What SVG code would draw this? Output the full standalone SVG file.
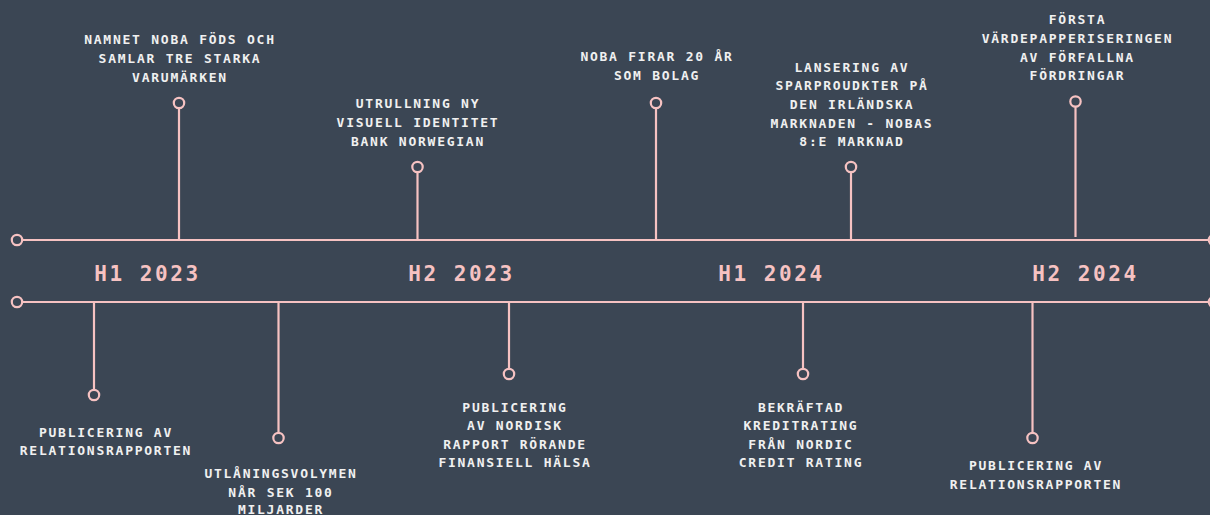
<svg xmlns="http://www.w3.org/2000/svg" width="1210" height="515" viewBox="0 0 1210 515">
<style>
.bg{fill:#3b4654}
.ln{stroke:#f6c2c2;stroke-width:2.2;fill:none}
.dot{stroke:#f6c2c2;stroke-width:2.2;fill:#3b4654}
.t{font-family:"DejaVu Sans Mono","Liberation Mono",monospace;font-weight:bold;font-size:13px;letter-spacing:1.75px;fill:#f0f0f0;text-anchor:middle}
.p{font-family:"DejaVu Sans Mono","Liberation Mono",monospace;font-weight:bold;font-size:21px;letter-spacing:2.6px;fill:#f6c2c2;text-anchor:middle}
</style>
<rect class="bg" x="0" y="0" width="1210" height="515"/>
<g id="connectors">
<line class="ln" x1="17" y1="240" x2="1213" y2="240"/>
<line class="ln" x1="17" y1="302" x2="1213" y2="302"/>
<line class="ln" x1="179" y1="103" x2="179" y2="240"/>
<line class="ln" x1="417.5" y1="167" x2="417.5" y2="240"/>
<line class="ln" x1="656" y1="103" x2="656" y2="240"/>
<line class="ln" x1="851" y1="167" x2="851" y2="240"/>
<line class="ln" x1="1075.5" y1="101.5" x2="1075.5" y2="237"/>
<line class="ln" x1="94" y1="302" x2="94" y2="395"/>
<line class="ln" x1="278.5" y1="302" x2="278.5" y2="438"/>
<line class="ln" x1="509" y1="302" x2="509" y2="374"/>
<line class="ln" x1="803" y1="302" x2="803" y2="374"/>
<line class="ln" x1="1032.5" y1="302" x2="1032.5" y2="438"/>
</g>
<g id="axis-ends">
<circle class="dot" cx="17" cy="240" r="5.2"/>
<circle class="dot" cx="17" cy="302" r="5.2"/>
<circle class="dot" cx="1214" cy="240" r="5.2"/>
<circle class="dot" cx="1214" cy="302" r="5.2"/>
</g>
<g id="period-h1-2023"><text class="p" x="147.5" y="281">H1 2023</text></g>
<g id="period-h2-2023"><text class="p" x="461.5" y="281">H2 2023</text></g>
<g id="period-h1-2024"><text class="p" x="771.5" y="281">H1 2024</text></g>
<g id="period-h2-2024"><text class="p" x="1085.5" y="281">H2 2024</text></g>
<g id="e1">
<circle class="dot" cx="179" cy="103" r="5.2"/>
<text class="t" x="180" y="44">NAMNET NOBA FÖDS OCH</text>
<text class="t" x="180" y="63">SAMLAR TRE STARKA</text>
<text class="t" x="180" y="82">VARUMÄRKEN</text>
</g>
<g id="e2">
<circle class="dot" cx="417.5" cy="167" r="5.2"/>
<text class="t" x="418" y="108">UTRULLNING NY</text>
<text class="t" x="418" y="127">VISUELL IDENTITET</text>
<text class="t" x="418" y="145.5">BANK NORWEGIAN</text>
</g>
<g id="e3">
<circle class="dot" cx="656" cy="103" r="5.2"/>
<text class="t" x="657" y="60.5">NOBA FIRAR 20 ÅR</text>
<text class="t" x="657" y="79.5">SOM BOLAG</text>
</g>
<g id="e4">
<circle class="dot" cx="851" cy="167" r="5.2"/>
<text class="t" x="852" y="71.5">LANSERING AV</text>
<text class="t" x="852" y="90">SPARPROUDKTER PÅ</text>
<text class="t" x="852" y="109">DEN IRLÄNDSKA</text>
<text class="t" x="852" y="127.5">MARKNADEN - NOBAS</text>
<text class="t" x="852" y="146">8:E MARKNAD</text>
</g>
<g id="e5">
<circle class="dot" cx="1075.5" cy="101.5" r="5.2"/>
<text class="t" x="1077.5" y="24">FÖRSTA</text>
<text class="t" x="1077.5" y="43">VÄRDEPAPPERISERINGEN</text>
<text class="t" x="1077.5" y="61.5">AV FÖRFALLNA</text>
<text class="t" x="1077.5" y="80">FÖRDRINGAR</text>
</g>
<g id="e6">
<circle class="dot" cx="94" cy="395" r="5.2"/>
<text class="t" x="106" y="436.5">PUBLICERING AV</text>
<text class="t" x="106" y="455">RELATIONSRAPPORTEN</text>
</g>
<g id="e7">
<circle class="dot" cx="278.5" cy="438" r="5.2"/>
<text class="t" x="281" y="478">UTLÅNINGSVOLYMEN</text>
<text class="t" x="281" y="497">NÅR SEK 100</text>
<text class="t" x="281" y="514">MILJARDER</text>
</g>
<g id="e8">
<circle class="dot" cx="509" cy="374" r="5.2"/>
<text class="t" x="515" y="411.5">PUBLICERING</text>
<text class="t" x="515" y="430">AV NORDISK</text>
<text class="t" x="515" y="448.5">RAPPORT RÖRANDE</text>
<text class="t" x="515" y="467">FINANSIELL HÄLSA</text>
</g>
<g id="e9">
<circle class="dot" cx="803" cy="374" r="5.2"/>
<text class="t" x="801" y="411.5">BEKRÄFTAD</text>
<text class="t" x="801" y="430">KREDITRATING</text>
<text class="t" x="801" y="448.5">FRÅN NORDIC</text>
<text class="t" x="801" y="467">CREDIT RATING</text>
</g>
<g id="e10">
<circle class="dot" cx="1032.5" cy="438" r="5.2"/>
<text class="t" x="1036" y="470">PUBLICERING AV</text>
<text class="t" x="1036" y="489">RELATIONSRAPPORTEN</text>
</g>
</svg>
